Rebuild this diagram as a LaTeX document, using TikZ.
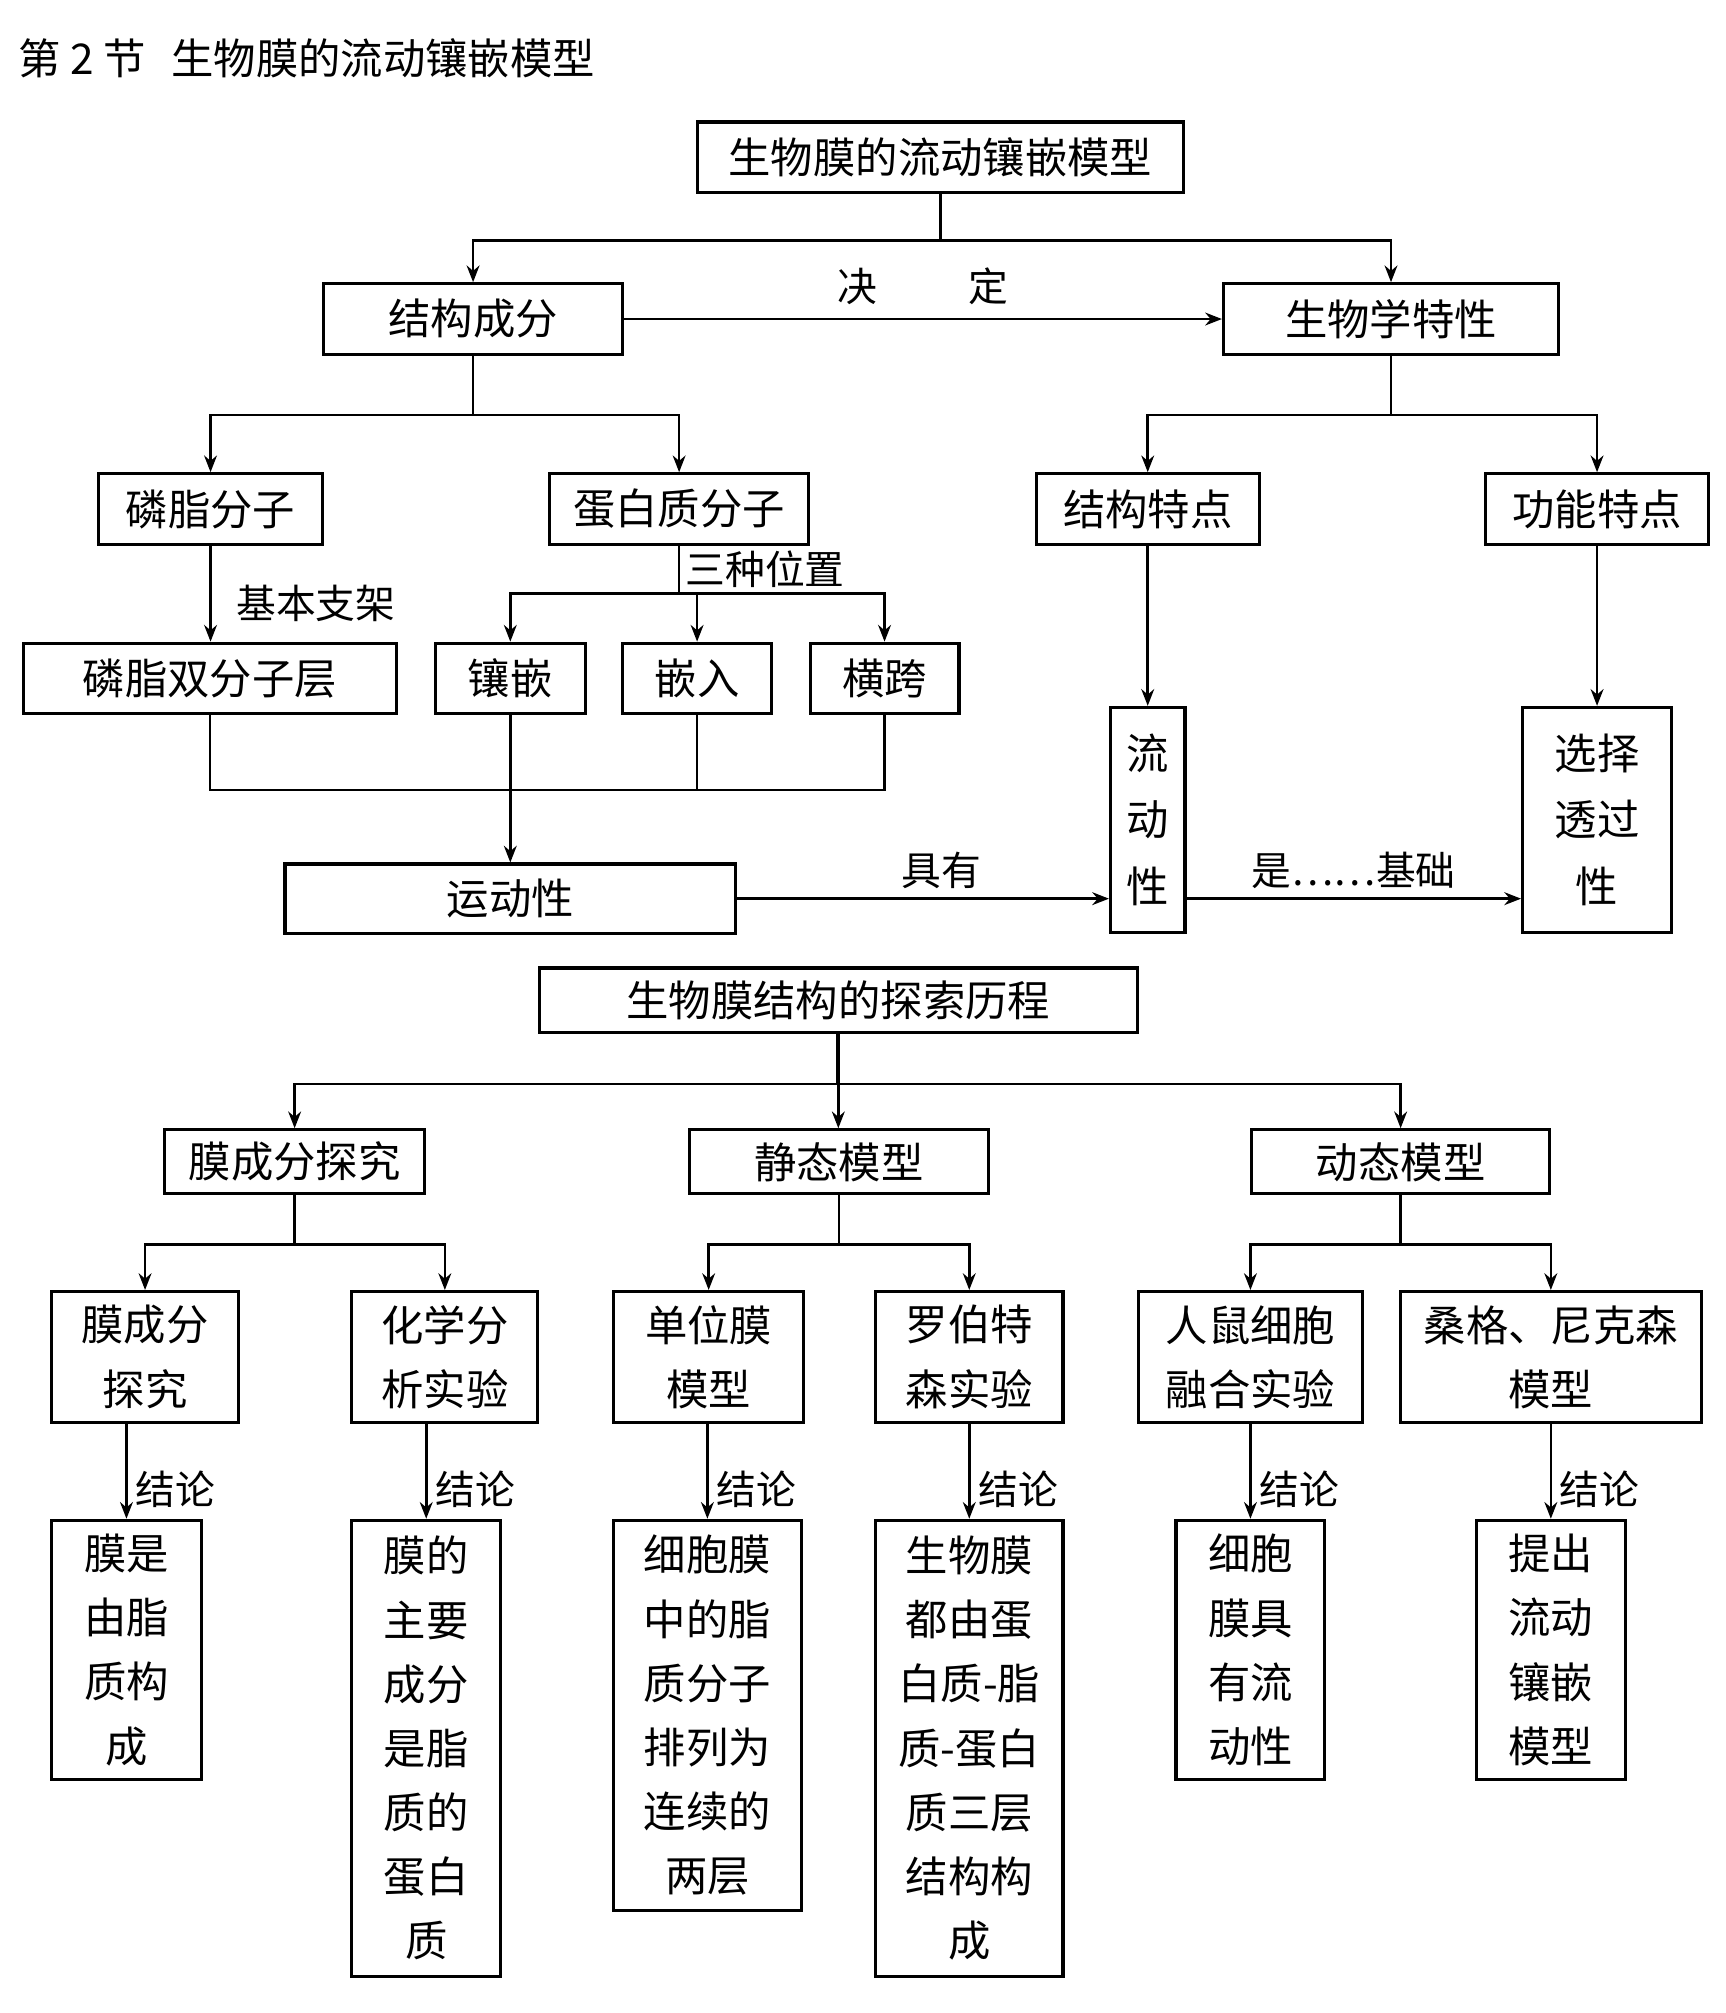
\documentclass[tikz,border=0pt]{standalone}
\usepackage{fontspec}
\newfontfamily\cjk{Noto Sans CJK SC}
\usetikzlibrary{arrows.meta}

\tikzset{
  box/.style={draw, line width=2.4pt, inner sep=0pt, align=center,
    font=\cjk\fontsize{33}{50}\selectfont},
  lbl/.style={font=\cjk\fontsize{31}{36}\selectfont, inner sep=1pt},
  arr/.style={-{Stealth[length=13pt,width=10pt]}},
}

\begin{document}
\begin{tikzpicture}[x=1pt, y=-1pt, line width=2pt]
      \useasboundingbox (0,0) rectangle (1344,1568);
      \node[anchor=west, font=\cjk\fontsize{33}{40}\selectfont] (title) at (10,45) {第 2 节\hspace{20pt}生物膜的流动镶嵌模型};

      % upper part
      \node[box, minimum width=379pt, minimum height=55pt] (mxmx) at (732.5,122.5) {生物膜的流动镶嵌模型};
      \node[box, minimum width=233pt, minimum height=55pt] (jgcf) at (368.5,248.5) {结构成分};
      \node[box, minimum width=261pt, minimum height=55pt] (swtx) at (1083.5,248.5) {生物学特性};
      \node[box, minimum width=174pt, minimum height=55pt] (lzfz) at (164,396.5) {磷脂分子};
      \node[box, minimum width=202pt, minimum height=55pt] (dbfz) at (529,396.5) {蛋白质分子};
      \node[box, minimum width=174pt, minimum height=55pt] (jgtd) at (894,396.5) {结构特点};
      \node[box, minimum width=174pt, minimum height=55pt] (gntd) at (1244,396.5) {功能特点};
      \node[box, minimum width=291pt, minimum height=55pt] (szc) at (163.5,528.5) {磷脂双分子层};
      \node[box, minimum width=117pt, minimum height=55pt] (xq) at (397.5,528.5) {镶嵌};
      \node[box, minimum width=116pt, minimum height=55pt] (qr) at (543,528.5) {嵌入};
      \node[box, minimum width=116pt, minimum height=55pt] (hk) at (689,528.5) {横跨};
      \node[box, minimum width=351pt, minimum height=54pt] (ydx) at (397.5,700) {运动性};
      \node[box, minimum width=58pt, minimum height=175pt] (ldx) at (894,638.5) {流\\[2pt]动\\[2pt]性};
      \node[box, minimum width=116pt, minimum height=175pt] (xztg) at (1244,638.5) {选择\\[2pt]透过\\[2pt]性};

      \draw[arr] (mxmx.south) -- ++(0,36) -| (jgcf.north);
      \draw[arr] (mxmx.south) -- ++(0,36) -| (swtx.north);
      \draw[arr] (jgcf.east) -- node[lbl, above=9pt] {决\hspace{2.3em}定} (swtx.west);
      \draw[arr] (jgcf.south) -- ++(0,46) -| (lzfz.north);
      \draw[arr] (jgcf.south) -- ++(0,46) -| (dbfz.north);
      \draw[arr] (swtx.south) -- ++(0,46) -| (jgtd.north);
      \draw[arr] (swtx.south) -- ++(0,46) -| (gntd.north);
      \draw[arr] (lzfz.south) -- node[lbl, pos=0.6, right=18pt] {基本支架} (lzfz.south |- szc.north);
      \draw (dbfz.south) -- ++(0,37) coordinate (fk) node[lbl, midway, anchor=west, xshift=3pt] {三种位置};
      \draw[arr] (fk) -| (xq.north);
      \draw[arr] (fk) -| (hk.north);
      \draw[arr] (fk -| qr.north) -- (qr.north);
      \draw (szc.south) -- ++(0,58) -| (hk.south);
      \draw (qr.south) -- ++(0,58);
      \draw[arr] (xq.south) -- (ydx.north);
      \draw[arr] (ydx.east) -- node[lbl, above=6pt, pos=0.55] {具有} (ldx.west |- ydx.east);
      \draw[arr] (jgtd.south) -- (ldx.north);
      \draw[arr] (gntd.south) -- (xztg.north);
      \draw[arr] (ldx.east |- ydx.east) -- node[lbl, above=6pt] {是……基础} (xztg.west |- ydx.east);

      % lower part
      \node[box, minimum width=466pt, minimum height=50pt] (tslc) at (653,779) {生物膜结构的探索历程};
      \node[box, minimum width=203pt, minimum height=50pt] (mcf) at (229.5,905) {膜成分探究};
      \node[box, minimum width=233pt, minimum height=50pt] (jtmx) at (653.5,905) {静态模型};
      \node[box, minimum width=232pt, minimum height=50pt] (dtmx) at (1091,905) {动态模型};

      \node[box, minimum width=146pt, minimum height=102pt] (a1) at (113,1057) {膜成分\\探究};
      \node[box, minimum width=145pt, minimum height=102pt] (a2) at (346.5,1057) {化学分\\析实验};
      \node[box, minimum width=148pt, minimum height=102pt] (a3) at (552,1057) {单位膜\\模型};
      \node[box, minimum width=146pt, minimum height=102pt] (a4) at (755,1057) {罗伯特\\森实验};
      \node[box, minimum width=174pt, minimum height=102pt] (a5) at (974,1057) {人鼠细胞\\融合实验};
      \node[box, minimum width=234pt, minimum height=102pt] (a6) at (1208,1057) {桑格、尼克森\\模型};

      \node[box, minimum width=117pt, minimum height=202pt, anchor=north] (b1) at (98.5,1183) {膜是\\由脂\\质构\\成};
      \node[box, minimum width=116pt, minimum height=355pt, anchor=north] (b2) at (332,1183) {膜的\\主要\\成分\\是脂\\质的\\蛋白\\质};
      \node[box, minimum width=146pt, minimum height=304pt, anchor=north] (b3) at (551,1183) {细胞膜\\中的脂\\质分子\\排列为\\连续的\\两层};
      \node[box, minimum width=146pt, minimum height=355pt, anchor=north] (b4) at (755,1183) {生物膜\\都由蛋\\白质-脂\\质-蛋白\\质三层\\结构构\\成};
      \node[box, minimum width=116pt, minimum height=202pt, anchor=north] (b5) at (974,1183) {细胞\\膜具\\有流\\动性};
      \node[box, minimum width=116pt, minimum height=202pt, anchor=north] (b6) at (1208,1183) {提出\\流动\\镶嵌\\模型};

      \draw[line width=3pt] (tslc.south) -- ++(0,39) coordinate (fk2);
      \draw[arr] (fk2) -| (mcf.north);
      \draw[arr] (fk2) -| (dtmx.north);
      \draw[arr] (fk2) -- (fk2 |- jtmx.north);
      \draw[arr] (mcf.south) -- ++(0,38) -| (a1.north);
      \draw[arr] (mcf.south) -- ++(0,38) -| (a2.north);
      \draw[arr] (jtmx.south) -- ++(0,38) -| (a3.north);
      \draw[arr] (jtmx.south) -- ++(0,38) -| (a4.north);
      \draw[arr] (dtmx.south) -- ++(0,38) -| (a5.north);
      \draw[arr] (dtmx.south) -- ++(0,38) -| (a6.north);
      \foreach \a/\b in {a1/b1, a2/b2, a3/b3, a4/b4, a5/b5, a6/b6}
        \draw[arr] (\b.north |- \a.south) -- node[lbl, pos=0.69, anchor=west, xshift=5pt] {结论} (\b.north);
\end{tikzpicture}
\end{document}
